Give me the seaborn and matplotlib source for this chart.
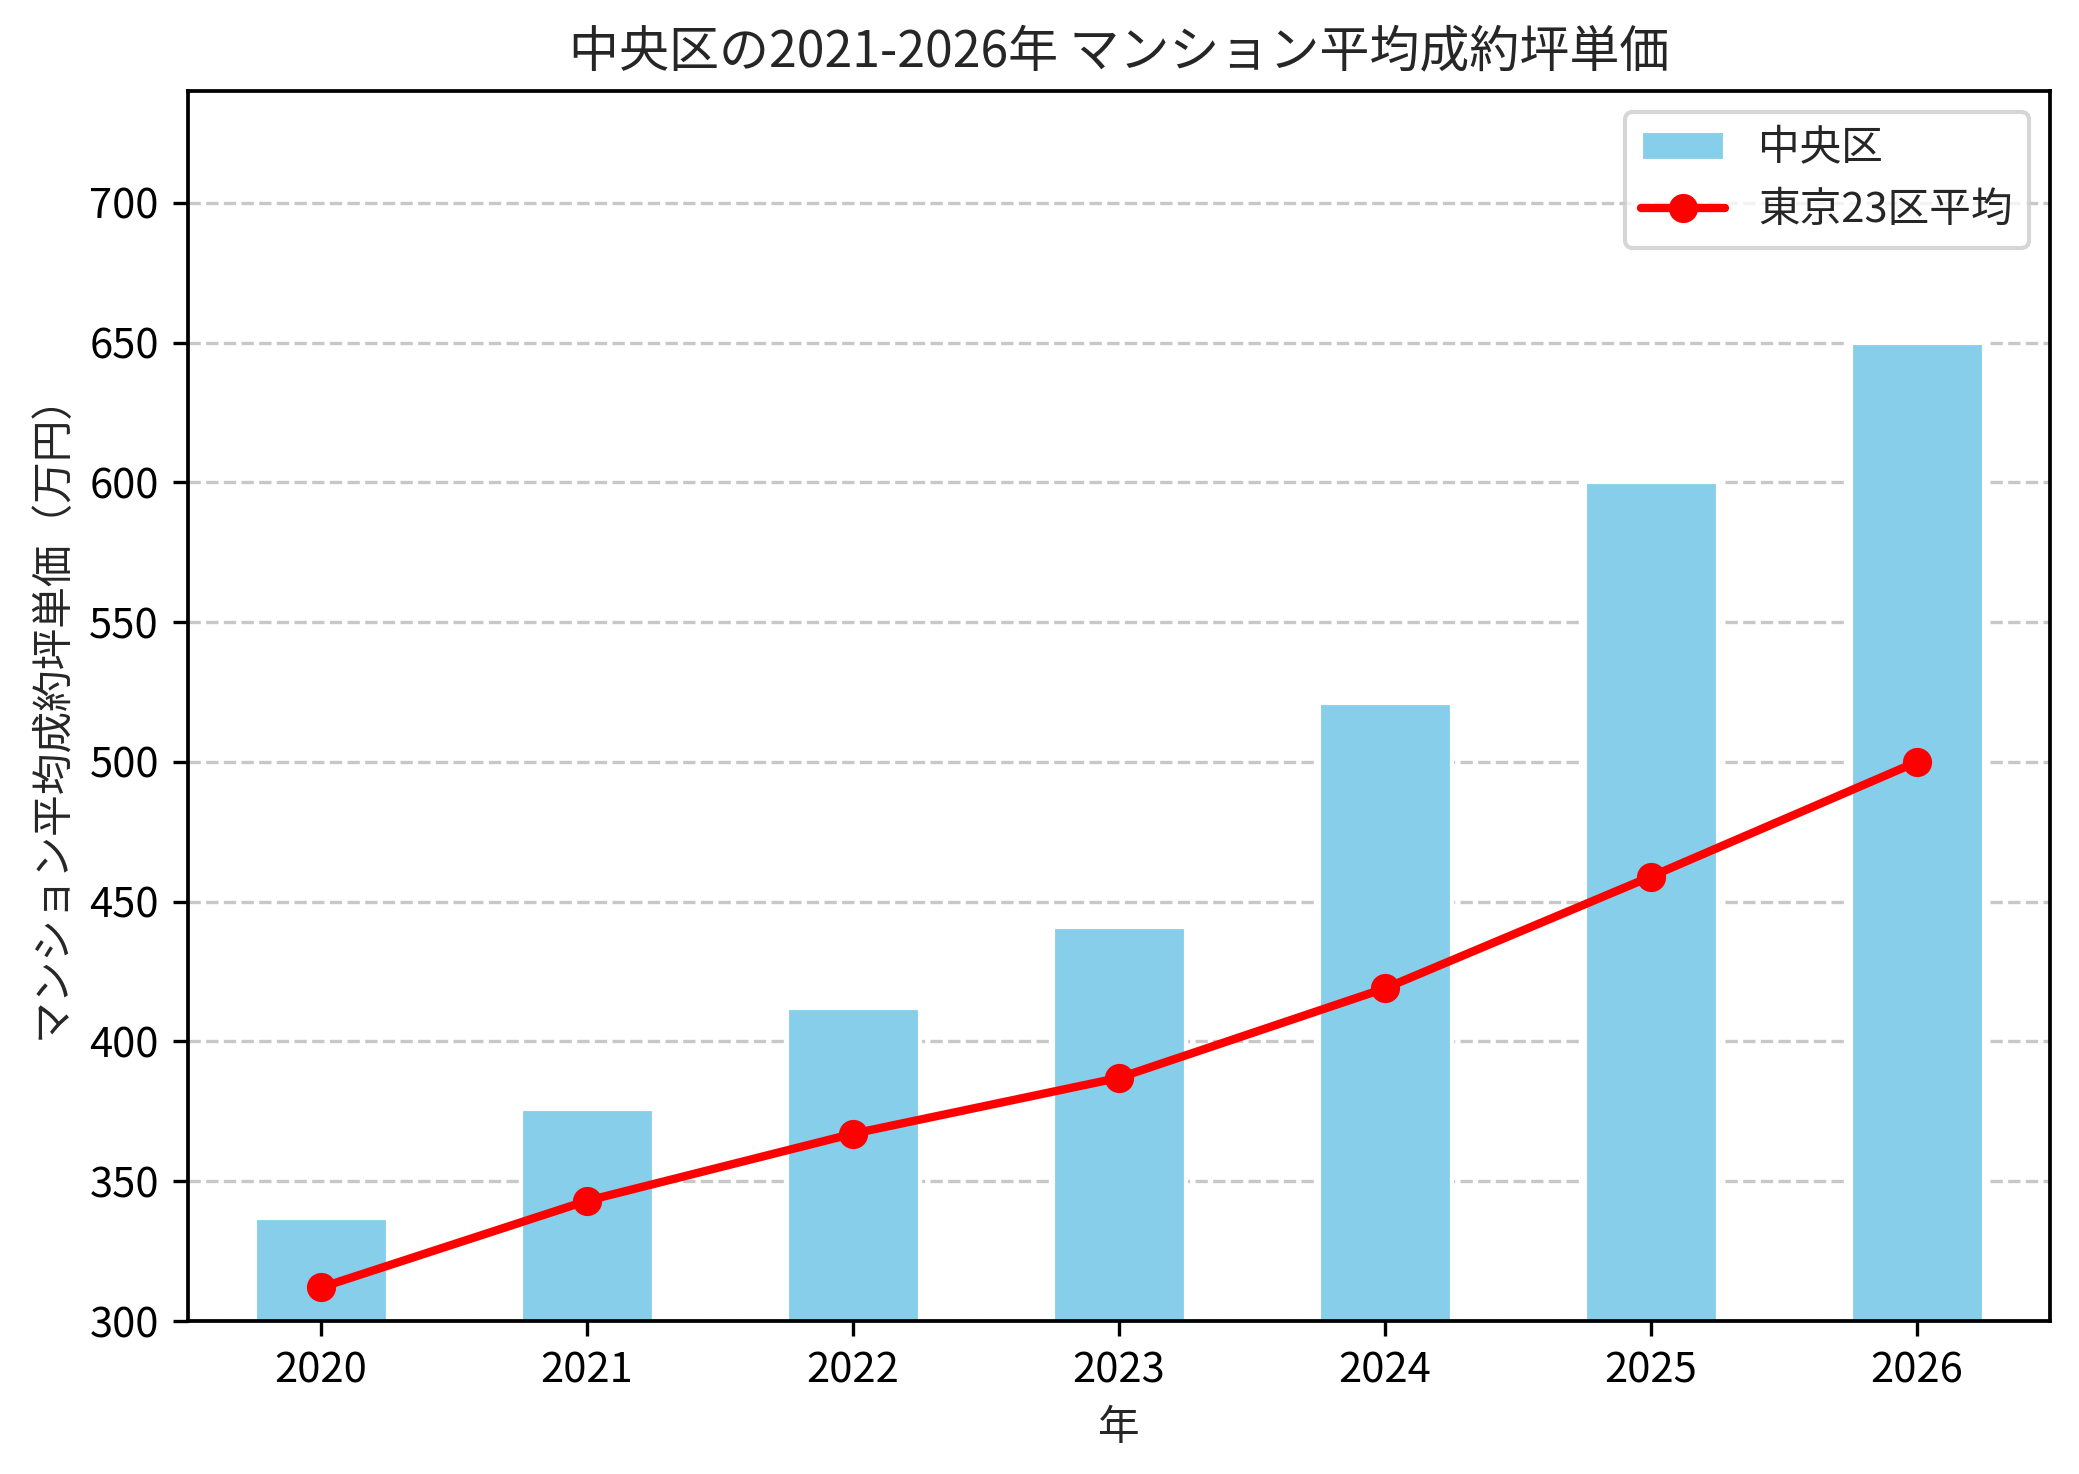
import matplotlib
matplotlib.use("Agg")
import matplotlib.pyplot as plt
import seaborn as sns
import numpy as np
import pandas as pd

years = ["2020", "2021", "2022", "2023", "2024", "2025", "2026"]
chuo = [337, 376, 412, 441, 521, 600, 650]
tokyo23 = [312, 343, 367, 387, 419, 459, 500]

sns.set_style("ticks")
plt.rcParams["font.family"] = ["Noto Sans CJK JP", "DejaVu Sans"]
plt.rcParams["axes.unicode_minus"] = False

fig = plt.figure(figsize=(2079 / 300, 1474 / 300), dpi=300)
ax = fig.add_axes([188 / 2079, 1 - 1321 / 1474, (2050 - 188) / 2079, (1321 - 91) / 1474])

df = pd.DataFrame({"年": years, "中央区": chuo, "東京23区平均": tokyo23})

sns.barplot(data=df, x="年", y="中央区", color="skyblue", saturation=1,
            width=0.5, ax=ax, label="中央区", zorder=2)
ax.plot(np.arange(len(years)), df["東京23区平均"], color="red", marker="o",
        linewidth=2, markersize=6, label="東京23区平均", zorder=3)

ax.set_ylim(300, 740)
ax.set_xlim(-0.5, 6.5)
ax.set_yticks(np.arange(300, 701, 50))
ax.tick_params(labelsize=10, direction="out", length=3.5, width=0.8, colors="black")
ax.grid(axis="y", linestyle="--", color="#bbbbbb", alpha=0.8, linewidth=0.8, zorder=0)
ax.set_axisbelow(True)
for s in ax.spines.values():
    s.set_visible(True)
    s.set_color("black")
    s.set_linewidth(0.9)

ax.set_xlabel("年", fontsize=10)
ax.set_ylabel("マンション平均成約坪単価（万円）", fontsize=10)
ax.set_title("中央区の2021-2026年 マンション平均成約坪単価", fontsize=12, pad=6)

handles, labels = ax.get_legend_handles_labels()
order = [labels.index("中央区"), labels.index("東京23区平均")]
ax.legend([handles[i] for i in order], [labels[i] for i in order],
          loc="upper right", fontsize=10, frameon=True)

fig.savefig("out.png", dpi=300)
